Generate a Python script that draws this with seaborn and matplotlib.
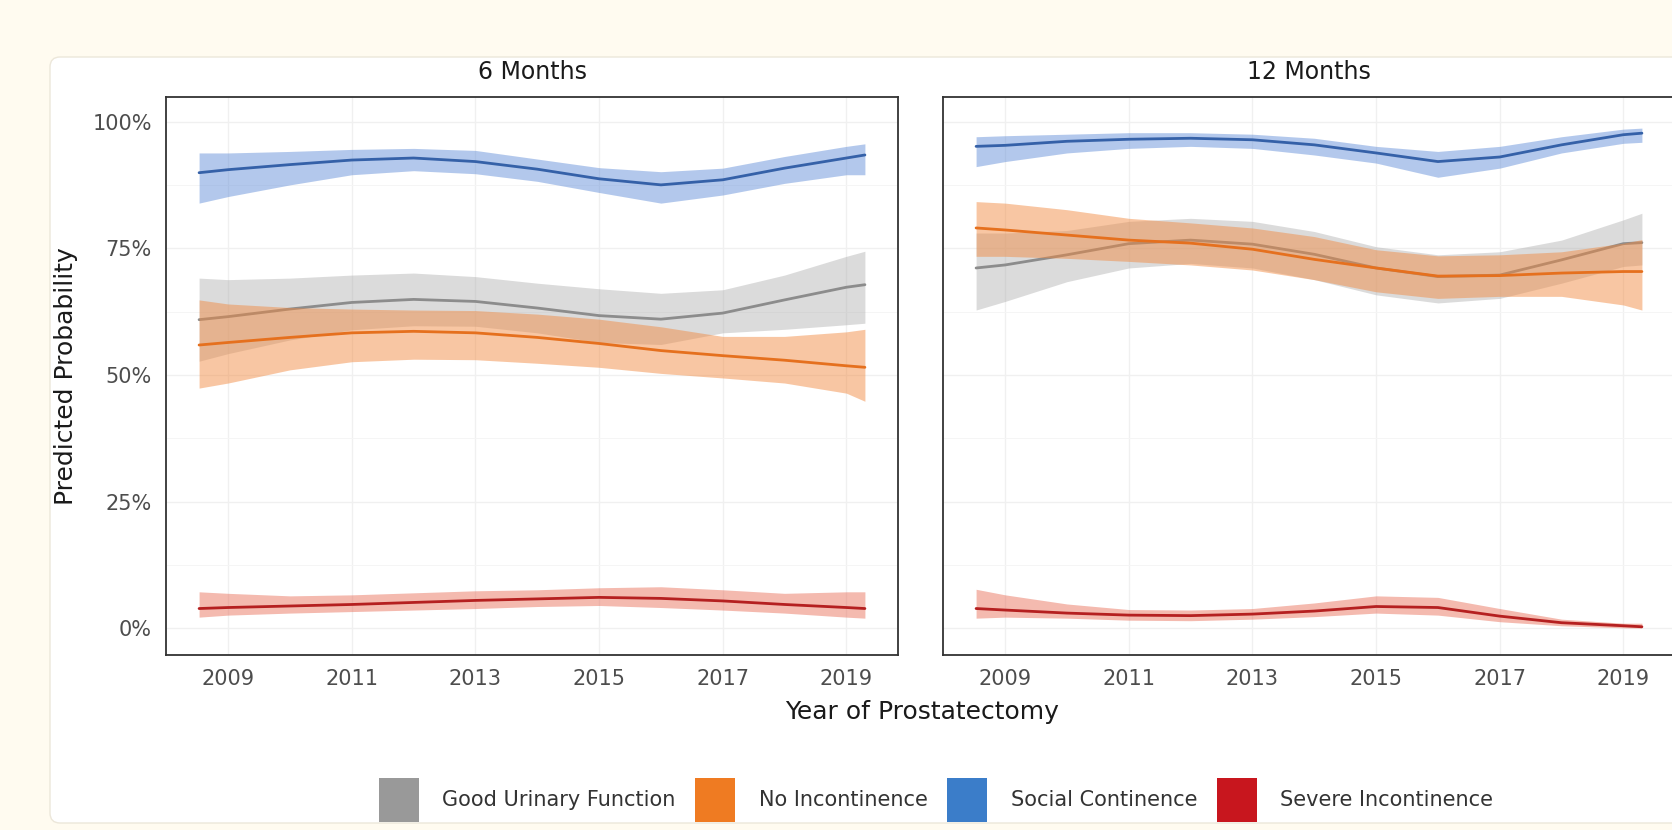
import numpy as np
import pandas as pd
import matplotlib
matplotlib.use("Agg")
import matplotlib.pyplot as plt
import matplotlib.transforms as mtransforms
import seaborn as sns
from matplotlib.patches import FancyBboxPatch, Patch
from matplotlib.ticker import FuncFormatter, MultipleLocator, FixedLocator

sns.set_theme(style="white")
plt.rcParams['font.family'] = ['DejaVu Sans']

# ---------------- data ----------------
years = [2008.53, 2009, 2010, 2011, 2012, 2013, 2014, 2015, 2016, 2017, 2018, 2019, 2019.3]
outcomes = ["Good Urinary Function", "No Incontinence", "Social Continence", "Severe Incontinence"]
panels = ["6 Months", "12 Months"]
x_ticks = [2009, 2011, 2013, 2015, 2017, 2019]

# 6 months (percent)
gray_6 = [60.9, 61.5, 63.0, 64.3, 64.9, 64.5, 63.2, 61.7, 61.0, 62.2, 64.8, 67.3, 67.8]
gray_6_hi = [69.1, 68.8, 69.1, 69.7, 70.1, 69.4, 68.1, 67.0, 66.1, 66.8, 69.7, 73.4, 74.4]
gray_6_lo = [52.7, 54.2, 56.9, 58.9, 59.7, 59.6, 58.3, 56.4, 56.0, 58.3, 59.0, 59.9, 60.2]
orange_6 = [55.9, 56.4, 57.4, 58.3, 58.6, 58.3, 57.4, 56.2, 54.8, 53.8, 52.9, 51.8, 51.5]
orange_6_hi = [64.8, 64.0, 63.3, 63.0, 62.8, 62.7, 62.0, 61.0, 59.5, 57.6, 57.6, 58.5, 59.0]
orange_6_lo = [47.4, 48.4, 51.0, 52.6, 53.1, 53.0, 52.3, 51.5, 50.3, 49.4, 48.4, 46.4, 44.8]
blue_6 = [89.9, 90.5, 91.5, 92.4, 92.8, 92.1, 90.6, 88.7, 87.5, 88.5, 90.8, 92.8, 93.4]
blue_6_hi = [93.8, 93.8, 94.1, 94.5, 94.7, 94.3, 92.6, 90.9, 90.1, 90.8, 93.1, 95.1, 95.6]
blue_6_lo = [83.9, 85.2, 87.5, 89.5, 90.3, 89.7, 88.2, 86.0, 83.9, 85.5, 87.8, 89.5, 89.5]
red_6 = [3.9, 4.1, 4.4, 4.7, 5.1, 5.5, 5.8, 6.1, 5.9, 5.4, 4.7, 4.1, 3.9]
red_6_hi = [7.2, 6.9, 6.4, 6.6, 7.0, 7.4, 7.6, 8.0, 8.2, 7.6, 6.9, 7.2, 7.2]
red_6_lo = [2.2, 2.6, 3.0, 3.3, 3.6, 3.9, 4.3, 4.5, 4.1, 3.6, 3.0, 2.2, 2.0]

# 12 months (percent)
gray_12 = [71.1, 71.7, 73.7, 75.9, 76.6, 75.8, 73.8, 71.1, 69.4, 69.7, 72.7, 75.9, 76.1]
gray_12_hi = [78.0, 78.0, 78.5, 80.3, 80.9, 80.3, 78.3, 75.3, 73.7, 74.3, 76.6, 80.6, 81.9]
gray_12_lo = [62.8, 64.5, 68.4, 71.1, 72.0, 71.1, 68.8, 65.8, 64.2, 65.1, 68.1, 71.4, 71.7]
orange_12 = [79.0, 78.6, 77.6, 76.6, 76.0, 74.8, 72.8, 71.1, 69.5, 69.6, 70.1, 70.4, 70.4]
orange_12_hi = [84.2, 83.9, 82.6, 80.9, 80.0, 79.0, 77.3, 74.7, 73.5, 73.7, 74.3, 76.0, 76.7]
orange_12_lo = [73.4, 73.4, 73.0, 72.4, 71.7, 70.7, 68.8, 66.4, 65.1, 65.5, 65.5, 63.8, 62.8]
blue_12 = [95.1, 95.3, 96.1, 96.5, 96.7, 96.4, 95.4, 93.8, 92.1, 93.0, 95.4, 97.4, 97.7]
blue_12_hi = [97.0, 97.2, 97.5, 97.8, 97.8, 97.5, 96.7, 95.1, 94.1, 95.1, 97.0, 98.5, 98.7]
blue_12_lo = [91.1, 92.1, 93.8, 94.7, 95.1, 94.7, 93.4, 91.8, 89.0, 90.8, 93.8, 95.7, 95.9]
red_12 = [3.9, 3.6, 3.0, 2.6, 2.5, 2.8, 3.4, 4.3, 4.1, 2.4, 1.1, 0.5, 0.3]
red_12_hi = [7.7, 6.6, 4.8, 3.7, 3.6, 3.9, 5.0, 6.4, 6.1, 3.9, 1.8, 1.0, 1.0]
red_12_lo = [2.0, 2.2, 2.0, 1.6, 1.5, 1.8, 2.3, 3.0, 2.6, 1.3, 0.5, 0.1, 0.05]

series = {
    "6 Months": {
        "Good Urinary Function": (gray_6, gray_6_lo, gray_6_hi),
        "No Incontinence": (orange_6, orange_6_lo, orange_6_hi),
        "Social Continence": (blue_6, blue_6_lo, blue_6_hi),
        "Severe Incontinence": (red_6, red_6_lo, red_6_hi),
    },
    "12 Months": {
        "Good Urinary Function": (gray_12, gray_12_lo, gray_12_hi),
        "No Incontinence": (orange_12, orange_12_lo, orange_12_hi),
        "Social Continence": (blue_12, blue_12_lo, blue_12_hi),
        "Severe Incontinence": (red_12, red_12_lo, red_12_hi),
    },
}

# ---------------- styles ----------------
line_colors = {"Good Urinary Function": "#8c8c8c", "No Incontinence": "#e5701e",
               "Social Continence": "#3561a8", "Severe Incontinence": "#b52020"}
fill_colors = {"Good Urinary Function": "#a6a6a6", "No Incontinence": "#f2893f",
               "Social Continence": "#5887d6", "Severe Incontinence": "#e8664f"}
fill_alpha = {"Good Urinary Function": 0.40, "No Incontinence": 0.48,
              "Social Continence": 0.45, "Severe Incontinence": 0.45}
legend_colors = {"Good Urinary Function": "#999999", "No Incontinence": "#ef7b22",
                 "Social Continence": "#3b7dc9", "Severe Incontinence": "#c8161e"}

W, H = 1672, 830
fig = plt.figure(figsize=(W / 100, H / 100), dpi=100)
fig.patch.set_facecolor('#fffbf0')

card = FancyBboxPatch((50, H - 823), 1700 - 50, 823 - 57,
                      boxstyle="round,pad=0,rounding_size=10",
                      transform=mtransforms.IdentityTransform(),
                      facecolor='white', edgecolor='#ece7da', lw=1.0, zorder=-5)
fig.patches.append(card)

ax_w = 732.6 / W
ax_h = 558.3 / H
ax_b = 1 - 655 / H
axL = fig.add_axes([165.7 / W, ax_b, ax_w, ax_h])
axR = fig.add_axes([942.7 / W, ax_b, ax_w, ax_h])

for ax, panel in zip([axL, axR], panels):
    ax.set_facecolor('white')
    ax.set_axisbelow(True)
    for k, name in enumerate(outcomes):
        mid, lo, hi = series[panel][name]
        z = 2 + k
        ax.fill_between(years, lo, hi, color=fill_colors[name], alpha=fill_alpha[name],
                        lw=0, zorder=z)
        df = pd.DataFrame({"year": years, "prob": mid, "outcome": name})
        sns.lineplot(data=df, x="year", y="prob", ax=ax, color=line_colors[name],
                     lw=2.0, zorder=z + 0.5, legend=False, errorbar=None)
    ax.set_xlim(2007.99, 2019.84)
    ax.set_ylim(-5.27, 104.9)
    ax.xaxis.set_major_locator(FixedLocator(x_ticks))
    ax.yaxis.set_major_locator(MultipleLocator(25))
    ax.yaxis.set_minor_locator(MultipleLocator(12.5))
    ax.yaxis.set_major_formatter(FuncFormatter(lambda v, p: f"{v:.0f}%"))
    ax.grid(which='major', color='#f0f0f0', lw=1.0)
    ax.grid(which='minor', axis='y', color='#f5f5f5', lw=0.7)
    ax.tick_params(axis='both', which='both', length=0, labelsize=15,
                   labelcolor='#4d4d4d', pad=10)
    for s in ax.spines.values():
        s.set_visible(True)
        s.set_color('#333333')
        s.set_linewidth(1.3)
    ax.set_xlabel("")
    ax.set_ylabel("")
    ax.text(0.5, 1 + 25 / 558.3, panel, transform=ax.transAxes, ha='center',
            va='center', fontsize=17, color='#1a1a1a')

axR.tick_params(axis='y', labelleft=False)

axL.set_ylabel("Predicted Probability", fontsize=18, color='#1a1a1a')
axL.yaxis.set_label_coords((66 - 165.7) / 732.6, 0.5)
axL.yaxis.label.set_va('center')

fig.text(922 / W, 1 - 712 / H, "Year of Prostatectomy", ha='center', va='center',
         fontsize=18, color='#1a1a1a')

handles = [Patch(facecolor=legend_colors[n], edgecolor='none') for n in outcomes]
leg = fig.legend(handles, outcomes, loc='center', bbox_to_anchor=(936 / W, 1 - 800 / H),
                 ncol=4, frameon=False, fontsize=15, handlelength=1.92, handleheight=2.85,
                 handletextpad=1.13, columnspacing=0.94)
for t in leg.get_texts():
    t.set_color('#333333')

fig.savefig('out.png', dpi=100, facecolor=fig.get_facecolor())
